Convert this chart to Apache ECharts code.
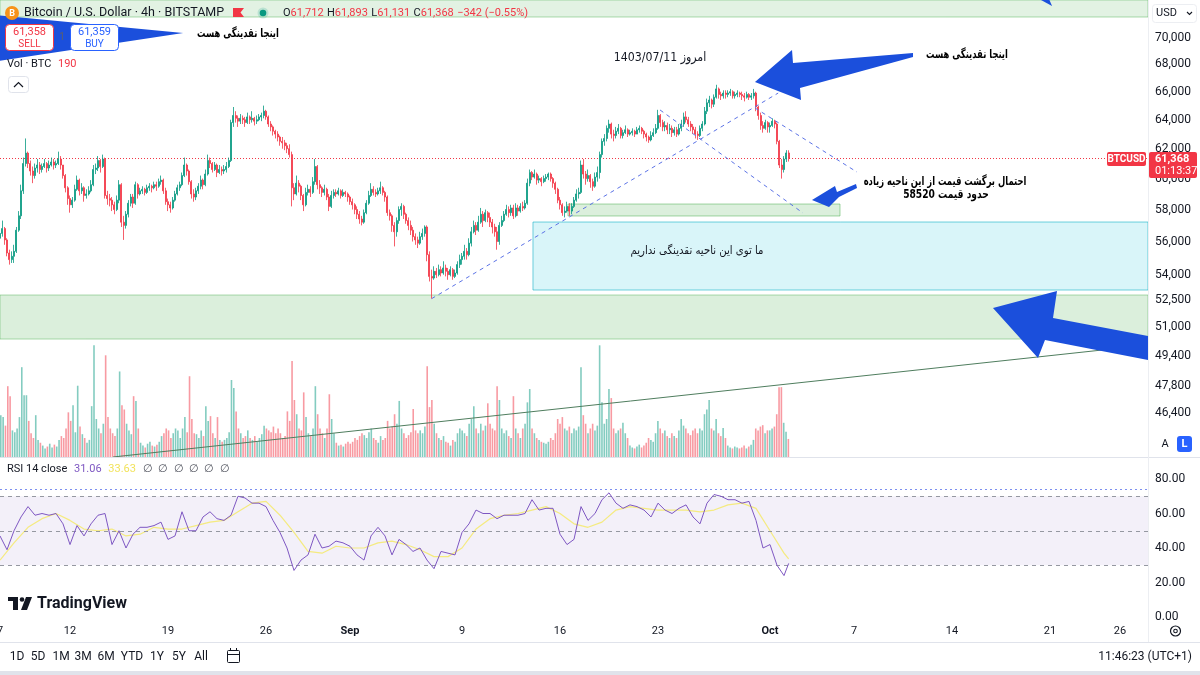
<!DOCTYPE html>
<html><head><meta charset="utf-8">
<script src="https://cdn.jsdelivr.net/npm/echarts@6/dist/echarts.min.js"></script>
<style>html,body{margin:0;padding:0;background:#fff;}#c{width:1200px;height:675px;}</style>
</head><body><div id="c"></div>
<script>
// ---------- DATA (4h candles, BITSTAMP BTC/USD, from 2024-08-07 00:00) ----------
const firstOpen = 56200;
const closes = [
// Aug 7
56500,56800,56100,55300,54900,55100,
// Aug 8
55400,56700,57600,59200,61000,61700,
// Aug 9
61000,60500,60200,60700,60900,60600,
// Aug 10
60800,61000,60700,60900,61100,60900,
// Aug 11
61000,61300,60900,60200,59400,58700,
// Aug 12
58300,58600,59300,59900,59200,59400,
// Aug 13
58900,59000,59200,59600,60600,60700,
// Aug 14
61200,60800,61300,58900,58700,58600,
// Aug 15
58300,58000,58600,59600,57200,57000,
// Aug 16
57700,58400,58800,58400,59600,59000,
// Aug 17
59200,59300,59100,59400,59500,59400,
// Aug 18
59600,59500,59800,59900,59200,58500,
// Aug 19
58300,58100,58600,59000,59400,59600,
// Aug 20
60200,60900,60500,59800,59000,58800,
// Aug 21
59200,59500,59900,59600,60300,61200,
// Aug 22
61000,60600,60900,60400,60600,60500,
// Aug 23
60600,60800,61200,63800,64300,64100,
// Aug 24
63900,64100,64000,63800,64200,64000,
// Aug 25
64100,63900,64000,64200,64300,64600,
// Aug 26
64200,63700,63500,63200,63000,62800,
// Aug 27
62500,62400,62200,62000,61600,59400,
// Aug 28
59000,59700,59500,58900,58300,59100,
// Aug 29
59300,59100,59800,60800,59600,59400,
// Aug 30
59100,59300,58800,58200,58900,59100,
// Aug 31
59000,59200,58900,59100,59000,58800,
// Sep 1
58500,58300,58000,57700,57400,57200,
// Sep 2
57800,58400,58900,59300,59100,59000,
// Sep 3
59200,59400,59100,58800,57800,57600,
// Sep 4
57000,56600,57300,58000,58200,57700,
// Sep 5
57300,57000,56700,56300,56100,55900,
// Sep 6
56300,56500,56900,55200,53900,53800,
// Sep 7
54200,54000,54300,54100,54400,54200,
// Sep 8
54000,54300,53900,54100,54600,54900,
// Sep 9
55100,55400,55200,55900,56600,57000,
// Sep 10
56700,57200,57700,57300,57800,57500,
// Sep 11
57200,56900,56600,56000,57000,57300,
// Sep 12
57700,58000,57800,58100,57600,58100,
// Sep 13
57900,58200,58100,58400,59700,60400,
// Sep 14
60100,60300,59900,60000,59800,60000,
// Sep 15
60100,60300,60000,59700,59300,58600,
// Sep 16
58300,57800,57900,58200,57900,58200,
// Sep 17
58600,59000,59100,60900,60300,60000,
// Sep 18
60200,59800,59500,60100,60400,61600,
// Sep 19
62500,62700,63400,63700,63000,62900,
// Sep 20
63200,63400,62900,63100,63300,63000,
// Sep 21
63100,63200,63000,63300,63400,63200,
// Sep 22
63000,62800,62600,62900,63100,63400,
// Sep 23
64300,63800,63500,63600,63300,63400,
// Sep 24
63100,63300,63000,63400,63700,64200,
// Sep 25
64000,63700,63500,63300,63000,62900,
// Sep 26
63400,63700,64600,65200,65400,65100,
// Sep 27
65600,66200,65800,65700,65900,65800,
// Sep 28
65900,66000,65700,65800,65900,65800,
// Sep 29
65700,65600,65800,65600,65700,65900,
// Sep 30
64900,64300,63600,63400,63800,63500,
// Oct 1
63600,63900,63700,62500,60900,60600,
// Oct 2
61300,61712,61368
];
const highs = [
56900,57300,56900,56200,55500,55400,
55800,56900,57900,59600,61400,62700,
61800,61200,60800,61000,61300,61100,
61000,61300,61100,61200,61400,61300,
61200,61800,61500,60900,60300,59500,
58900,58800,59600,60200,60000,59700,
59500,59300,59500,59900,60900,61000,
61500,61300,61600,61400,59200,59000,
58800,58500,58900,59900,59700,57600,
57900,58600,59000,59000,59800,59700,
59400,59500,59400,59600,59700,59600,
59800,59800,60000,60200,60000,59400,
58700,58500,58800,59200,59600,59800,
60400,61400,61000,60600,59900,59300,
59400,59700,60200,60000,60600,61600,
61400,61100,61100,61000,60900,60800,
60900,61100,61400,64000,64900,64600,
64300,64400,64300,64200,64500,64300,
64600,64200,64300,64400,64500,65000,
64700,64300,63900,63600,63300,63200,
62900,62800,62600,62400,62300,61800,
59700,60200,59900,59600,59000,59400,
59600,59500,60100,61300,60900,59900,
59500,59600,59400,59000,59200,59300,
59300,59400,59300,59300,59200,59100,
58900,58700,58400,58200,57900,57600,
58000,58600,59200,59700,59500,59300,
59400,59800,59500,59200,58900,58000,
57700,57200,57500,58200,58400,58300,
57800,57500,57300,56900,56500,56300,
56600,56800,57000,57000,55400,54300,
54500,54400,54600,54500,54800,54600,
54400,54500,54400,54300,54800,55200,
55300,55800,55600,56200,56900,57300,
57200,57600,58100,57900,58000,57900,
57800,57400,57100,56900,57200,57600,
57900,58300,58200,58300,58300,58400,
58300,58400,58500,58600,60000,60600,
60500,60600,60400,60200,60100,60200,
60300,60400,60400,60100,59800,59400,
58800,58400,58200,58500,58400,58400,
58800,59300,59400,61200,61300,60500,
60600,60300,60000,60400,60800,61800,
62700,63000,63600,64000,63800,63300,
63500,63700,63500,63300,63600,63400,
63300,63400,63300,63500,63600,63500,
63300,63100,62900,63200,63400,63700,
64700,64400,64000,63900,63800,63700,
63600,63500,63500,63700,64000,64500,
64600,64200,63900,63700,63500,63200,
63600,63900,64900,65500,65700,65500,
65800,66500,66300,66000,66100,66100,
66100,66200,66100,66000,66100,66000,
66000,65900,66000,65900,65900,66200,
66000,65000,64500,63900,64000,63900,
63800,64100,64000,63800,62600,61300,
61500,61900,61893
];
const lows = [
55900,56300,55800,55100,54600,54700,
54700,55300,56600,57400,59000,60800,
60700,60200,59700,60000,60400,60300,
60400,60700,60400,60500,60800,60600,
60700,60900,60600,60000,59100,58300,
57800,58100,58500,59200,58900,59000,
58500,58700,58900,59100,59500,60300,
60500,60400,60700,58700,58300,58200,
57900,57700,57900,58400,56900,56100,
56800,57500,58200,58100,58300,58700,
58900,59000,58900,59000,59200,59100,
59300,59200,59400,59600,59000,58300,
57900,57800,58000,58500,58900,59200,
59500,60100,60200,59600,58700,58500,
58600,59000,59300,59300,59500,60200,
60700,60400,60500,60100,60300,60200,
60300,60400,60700,61100,63500,63800,
63500,63700,63700,63500,63700,63700,
63800,63600,63700,63900,63900,64100,
64000,63500,63200,62900,62700,62500,
62200,62000,61900,61700,61400,58200,
58600,58900,59100,58600,57900,58200,
58900,58800,59000,59600,59300,59000,
58800,58900,58600,57900,58100,58700,
58800,58900,58700,58800,58800,58500,
58300,58000,57700,57400,57100,57000,
57100,57700,58300,58800,58900,58800,
58900,59000,58900,58500,57600,57300,
56600,55700,56300,57100,57600,57400,
57100,56700,56400,56000,55800,55600,
55800,56100,56300,54800,53600,52600,
53700,53800,53900,53900,54000,53900,
53700,53900,53700,53800,54000,54400,
54600,54900,54900,55100,55700,56500,
56400,56600,57100,56900,57200,57200,
56900,56500,56300,55500,55800,56900,
57200,57600,57500,57600,57400,57500,
57600,57800,57900,58000,58300,59500,
59900,60000,59600,59700,59500,59700,
59800,59900,59800,59400,59000,58400,
58000,57600,57500,57800,57600,57700,
58100,58500,58700,59000,60000,59600,
59800,59400,59200,59400,59800,60000,
61400,62200,62500,63100,62700,62500,
62700,63000,62700,62700,63000,62800,
62900,62900,62800,63000,63100,63000,
62700,62500,62400,62500,62800,63000,
63300,63500,63200,63200,63000,63000,
62800,62900,62800,62900,63200,63500,
63800,63500,63200,63000,62700,62600,
62800,63200,63600,64400,64900,64800,
64900,65500,65500,65400,65500,65500,
65600,65700,65500,65500,65600,65600,
65400,65300,65500,65400,65400,65500,
64600,64000,63300,63100,63300,63100,
63100,63500,63400,62300,60700,60000,
60400,61100,61131
];
const volumes = [
440,420,330,745,640,280, 260,300,420,945,650,650, 380,250,200,440,180,150, 120,90,110,140,100,130,
110,180,220,200,300,470, 380,545,260,750,320,240, 200,150,180,535,1175,400, 300,250,350,1070,420,300,
250,220,300,900,545,500, 350,280,240,640,590,300, 150,120,100,140,160,120, 110,130,160,220,250,300,
280,200,250,300,280,200, 300,420,260,850,400,250, 240,200,280,220,535,380, 430,250,200,420,180,160,
180,200,260,810,725,480, 300,250,200,220,280,200, 180,220,160,200,240,330, 300,280,260,320,250,300,
250,200,220,480,380,1010, 600,450,300,280,680,420, 250,220,300,745,450,300, 250,200,300,660,400,250,
150,120,130,110,140,160, 140,160,200,180,220,250, 230,200,260,300,200,180, 150,220,180,200,380,300,
320,450,350,590,300,250, 200,230,260,505,280,250, 280,250,320,955,525,600, 350,250,200,180,220,160,
150,120,180,160,250,300, 280,250,220,350,400,535, 300,250,350,280,330,565, 350,300,280,745,600,300,
250,280,220,200,640,300, 250,200,300,350,575,715, 300,250,200,180,160,150, 140,160,200,180,250,400,
350,420,300,280,320,250, 300,280,320,945,440,350, 250,300,350,280,330,1175, 575,350,400,715,620,300,
250,280,300,360,250,200, 120,100,90,110,130,100, 120,150,200,180,160,250, 380,300,250,280,220,200,
250,220,200,280,400,330, 300,250,230,280,300,250, 300,280,450,500,600,300, 280,400,250,220,305,200,
120,100,90,110,100,90, 100,120,90,110,130,180, 300,280,320,335,250,280, 280,300,320,450,735,735,
360,265,190
];
// RSI 14 read every 12h from Aug 7 00:00, and its yellow average read daily
const rsiValues = [47,39,50,58,64,59,60,59,60,54,42,53,47,54,59,60,42,50,40,48,52,52,53,55,45,47,61,50,50,58,61,57,56,59,70,69,66,66,64,56,49,40,27,33,36,48,40,41,44,43,41,36,33,47,52,47,36,45,42,38,40,33,28,38,37,36,49,54,62,60,60,57,59,59,59,60,68,62,63,63,48,42,45,64,56,60,68,72,66,63,65,64,62,58,66,62,60,63,65,58,54,66,71,70,68,68,66,67,56,40,42,30,24];
const rsiMaValues = [33,43,52,57,60,56,51,50,51,47,48,52,51,51,53,55,56,61,66,67,59,49,38,37,41,40,40,43,44,42,39,35,35,40,51,57,59,60,62,64,60,54,52,55,62,64,63,62,62,62,61,62,65,66,63,50,37];
const rsiLast = 31.06, rsiMaLast = 33.63;
const priceTicks = [46400,47800,49400,51000,52500,54000,56000,58000,60000,62000,64000,66000,68000,70000];
const rsiTicks = [0,20,40,60,80];
const timeTicks = ['2024-08-07','2024-08-12','2024-08-19','2024-08-26','2024-09-01','2024-09-09','2024-09-16','2024-09-23','2024-10-01','2024-10-07','2024-10-14','2024-10-21','2024-10-26'];
const monthNames = ['Jan','Feb','Mar','Apr','May','Jun','Jul','Aug','Sep','Oct','Nov','Dec'];

// Drawings (time, price)
const zoneTop   = {from:'2024-08-01T00:00Z', to:'2024-10-28T00:00Z', low:71630, high:80000};
const zoneBig   = {from:'2024-08-01T00:00Z', to:'2024-10-28T00:00Z', low:50320, high:52810};
const zoneSmall = {from:'2024-09-16T13:40Z', to:'2024-10-06T00:00Z', low:57590, high:58350};
const zoneCyan  = {from:'2024-09-14T01:40Z', to:'2024-10-28T00:00Z', low:53100, high:57210};
const trendUp   = [['2024-09-06T20:00Z',52600],['2024-10-01T14:00Z',65900]];
const trendDn1  = [['2024-09-23T03:30Z',64690],['2024-10-03T08:30Z',57780]];
const trendDn2  = [['2024-09-29T22:15Z',64830],['2024-10-07T05:10Z',60430]];
const trendVol  = [['2024-08-15T01:45Z',44216],['2024-10-28T00:00Z',49990]];
const arrowTopLeft = [['2024-08-06T12:00Z',71800],['2024-08-20T02:00Z',70380],['2024-08-06T12:00Z',68200]];
const arrowTop = [['2024-09-29T22:15Z',66700],['2024-10-02T13:45Z',69090],['2024-10-02T15:25Z',68110],['2024-10-11T05:10Z',68860],['2024-10-11T05:10Z',68560],['2024-10-03T03:25Z',66270],['2024-10-03T05:10Z',65400]];
const arrowSmall = [['2024-10-04T00:00Z',58610],['2024-10-05T15:25Z',59510],['2024-10-05T18:50Z',59120],['2024-10-07T03:25Z',59650],['2024-10-07T05:10Z',59380],['2024-10-05T22:15Z',58800],['2024-10-05T05:10Z',58160]];
const arrowBottom = [['2024-10-16T22:15Z',52060],['2024-10-21T12:00Z',53040],['2024-10-21T05:10Z',51500],['2024-10-28T00:00Z',50490],['2024-10-28T00:00Z',49180],['2024-10-20T15:25Z',50270],['2024-10-20T03:25Z',49290]];
const arrowTopRightTail = [['2024-10-19T20:00Z',73300],['2024-10-20T20:00Z',73300],['2024-10-21T03:30Z',72500]];

// ---------- BUILD ----------
const HOUR = 3600e3;
const t0 = Date.UTC(2024,7,7);
const xMin = t0, xMax = Date.UTC(2024,9,28);
const candles = closes.map((c,i)=>{
  const o = i===0 ? firstOpen : closes[i-1];
  return [t0+i*4*HOUR, o, c, Math.min(lows[i],o,c), Math.max(highs[i],o,c)];
});
const lastT = t0+(closes.length-1)*4*HOUR;
const lastClose = closes[closes.length-1];
const volData = volumes.map((v,i)=>({value:[candles[i][0], v], itemStyle:{color: candles[i][2]>=candles[i][1] ? 'rgba(8,153,129,0.5)' : 'rgba(242,54,69,0.5)'}}));
const rsiData = rsiValues.map((v,i)=>[t0+i*12*HOUR, v]).concat([[lastT, rsiLast]]);
const maData = rsiMaValues.map((v,i)=>[t0+i*24*HOUR, v]).concat([[lastT, rsiMaLast]]);
const P = s=>Date.parse(s);
function zoneArea(z, fill, border){
  return [{coord:[P(z.from), z.low], itemStyle:{color:fill, borderColor:border, borderWidth:1}}, {coord:[P(z.to), z.high]}];
}
function trendSeries(pts, color, dash, w){
  return {type:'line', xAxisIndex:0, yAxisIndex:0, data:pts.map(p=>[P(p[0]),p[1]]), symbol:'none', silent:true, z:6,
    lineStyle:{color:color, width:w||1, type:dash}};
}
const axisFont = 'Roboto, "Noto Sans", sans-serif';
const option = {
  animation:false,
  backgroundColor:'#ffffff',
  textStyle:{fontFamily:axisFont},
  grid:[
    {left:0,right:52,top:0,height:457},
    {left:0,right:52,top:342,height:115},
    {left:0,right:52,top:459,height:163}
  ],
  xAxis:[
    {type:'time',gridIndex:0,min:xMin,max:xMax,show:false},
    {type:'time',gridIndex:1,min:xMin,max:xMax,show:false},
    {type:'time',gridIndex:2,min:xMin,max:xMax,show:false}
  ],
  yAxis:[
    {type:'log',gridIndex:0,position:'right',min:44216,max:72979,axisLine:{show:false},axisTick:{show:false},splitLine:{show:false},
      axisLabel:{customValues:priceTicks, color:'#131722', fontSize:12, margin:7, formatter:v=>Math.round(v).toLocaleString('en-US')}},
    {type:'value',gridIndex:1,min:0,max:1210,show:false},
    {type:'value',gridIndex:2,position:'right',min:-2.9,max:91.6,axisLine:{show:false},axisTick:{show:false},splitLine:{show:false},
      axisLabel:{customValues:rsiTicks, color:'#131722', fontSize:12, margin:7, formatter:v=>Number(v).toFixed(2)}}
  ],
  series:[
    {type:'line', xAxisIndex:0, yAxisIndex:0, data:[], silent:true, z:1,
      markArea:{silent:true, data:[
        zoneArea(zoneTop,'rgba(76,175,80,0.16)','rgba(76,175,80,0.45)'),
        zoneArea(zoneBig,'rgba(76,175,80,0.2)','rgba(76,175,80,0.45)'),
        zoneArea(zoneSmall,'rgba(76,175,80,0.2)','rgba(76,175,80,0.5)'),
        zoneArea(zoneCyan,'rgba(0,188,212,0.15)','rgba(0,172,193,0.55)')
      ]}},
    {type:'bar', xAxisIndex:1, yAxisIndex:1, data:volData, barWidth:1.6, silent:true, z:2},
    {type:'candlestick', xAxisIndex:0, yAxisIndex:0, data:candles, barWidth:1.6, silent:true, z:5,
      itemStyle:{color:'#089981', color0:'#f23645', borderColor:'#089981', borderColor0:'#f23645', borderWidth:0.8},
      markLine:{symbol:'none', silent:true, label:{show:false}, lineStyle:{color:'#f23645', type:[1,2], width:1}, data:[{yAxis:lastClose}]}},
    trendSeries(trendUp,'#5c73e6',[4,4]),
    trendSeries(trendDn1,'#5c73e6',[4,4]),
    trendSeries(trendDn2,'#5c73e6',[4,4]),
    trendSeries(trendVol,'#4f7d5e','solid',1),
    {type:'line', xAxisIndex:2, yAxisIndex:2, data:rsiData, symbol:'none', silent:true, z:5,
      lineStyle:{color:'#7e57c2', width:1},
      markArea:{silent:true, itemStyle:{color:'rgba(126,87,194,0.09)'}, data:[[{yAxis:30},{yAxis:70}]]},
      markLine:{symbol:'none', silent:true, label:{show:false}, lineStyle:{color:'#9598a1', type:[4,4], width:1},
        data:[{yAxis:70},{yAxis:50},{yAxis:30},{yAxis:73.8, lineStyle:{color:'#7d8ff0', type:[2,3], width:1}}]}},
    {type:'line', xAxisIndex:2, yAxisIndex:2, data:maData, symbol:'none', silent:true, z:4,
      lineStyle:{color:'rgba(244,234,120,0.95)', width:1.2}}
  ]
};
const chart = echarts.init(document.getElementById('c'), null, {renderer:'canvas', width:1200, height:675});
chart.setOption(option);

// ---------- overlays ----------
const toPx = p => chart.convertToPixel({xAxisIndex:0,yAxisIndex:0}, [P(p[0]), p[1]]);
const BLUE = '#1b4fdc';
const fa = '"DejaVu Sans", sans-serif';
const RLE = '\u202B', PDF = '\u202C';
function txt(x,y,text,font,fill,align,sx){return {type:'text', z:80, x:x, y:y, scaleX:sx||1, style:{x:0,y:0,text:text,font:font,fill:fill||'#131722',align:align||'left',verticalAlign:'middle'}};}
function rect(x,y,w,h,fill,stroke,r,z){return {type:'rect', z:z||78, shape:{x:x,y:y,width:w,height:h,r:r||0}, style:{fill:fill||'none', stroke:stroke||null, lineWidth:1}};}
const yp = chart.convertToPixel({yAxisIndex:0}, lastClose);
// time-axis labels placed through the time scale of the RSI pane
const timeLabelEls = timeTicks.map(s=>{
  const v = P(s), d = new Date(v);
  const x = chart.convertToPixel({xAxisIndex:2}, v);
  const isMonth = d.getUTCDate()===1;
  return txt(x, 631, isMonth ? monthNames[d.getUTCMonth()] : String(d.getUTCDate()), (isMonth?'bold ':'')+'11px '+axisFont, '#131722', 'center');
});
const els = [
  // arrows
  {type:'polygon', z:50, shape:{points:arrowTopLeft.map(toPx)}, style:{fill:BLUE}},
  {type:'polygon', z:50, shape:{points:arrowTop.map(toPx)}, style:{fill:BLUE}},
  {type:'polygon', z:50, shape:{points:arrowSmall.map(toPx)}, style:{fill:BLUE}},
  {type:'polygon', z:50, shape:{points:arrowBottom.map(toPx)}, style:{fill:BLUE}},
  {type:'polygon', z:50, shape:{points:arrowTopRightTail.map(toPx)}, style:{fill:BLUE}},
  // pane separators
  {type:'line', z:40, shape:{x1:0,y1:457.5,x2:1200,y2:457.5}, style:{stroke:'#e0e3eb',lineWidth:1}},
  {type:'line', z:40, shape:{x1:1148.5,y1:0,x2:1148.5,y2:642}, style:{stroke:'#eceef2',lineWidth:1}},
  {type:'line', z:40, shape:{x1:0,y1:642.5,x2:1200,y2:642.5}, style:{stroke:'#e0e3eb',lineWidth:1}},
  rect(0,671,1200,4,'#e0e3eb',null,0,40),
  // header
  {type:'circle', z:80, shape:{cx:12,cy:13,r:7}, style:{fill:'#f7931a'}},
  txt(12,13.5,'B','bold 9px '+axisFont,'#ffffff','center'),
  txt(24,13,'Bitcoin / U.S. Dollar · 4h · BITSTAMP','12.5px '+axisFont,'#131722'),
  {type:'polygon', z:80, shape:{points:[[233,8],[244,8],[240.5,12.5],[244,17],[233,17]]}, style:{fill:'#f23645'}},
  {type:'circle', z:80, shape:{cx:263,cy:13,r:5.5}, style:{fill:'rgba(8,153,129,0.18)'}},
  {type:'circle', z:80, shape:{cx:263,cy:13,r:3.3}, style:{fill:'#089981'}},
  {type:'text', z:80, style:{x:283,y:13,verticalAlign:'middle',
    text:'{d|O}{r|61,712} {d|H}{r|61,893} {d|L}{r|61,131} {d|C}{r|61,368} {r|−342 (−0.55%)}',
    rich:{d:{fill:'#131722',fontSize:11,fontFamily:axisFont}, r:{fill:'#f23645',fontSize:11,fontFamily:axisFont}}}},
  // sell / buy
  rect(5.5,24.5,48,26,'#ffffff','#f23645',4,79),
  txt(29.5,32,'61,358','11px '+axisFont,'#f23645','center'),
  txt(29.5,44,'SELL','10px '+axisFont,'#f23645','center'),
  txt(62,37.5,'1','10px '+axisFont,'#5d606b','center'),
  rect(70.5,24.5,48,26,'#ffffff','#2962ff',4,79),
  txt(94.5,32,'61,359','11px '+axisFont,'#2962ff','center'),
  txt(94.5,44,'BUY','10px '+axisFont,'#2962ff','center'),
  // volume legend & collapse button
  {type:'text', z:80, style:{x:7,y:64,verticalAlign:'middle', text:'{d|Vol · BTC}  {r|190}',
    rich:{d:{fill:'#131722',fontSize:11,fontFamily:axisFont}, r:{fill:'#f23645',fontSize:11,fontFamily:axisFont}}}},
  rect(8.5,76.5,20,16,'#ffffff','#e0e3eb',3,79),
  {type:'polyline', z:80, shape:{points:[[14,87],[18.5,82.5],[23,87]]}, style:{stroke:'#131722',lineWidth:1.2,fill:null}},
  // USD box
  rect(1152.5,4.5,44,18,'#ffffff','#eceef2',3,79),
  txt(1156,13.5,'USD','11px '+axisFont,'#131722'),
  {type:'polyline', z:80, shape:{points:[[1187,12],[1189.5,14.5],[1192,12]]}, style:{stroke:'#131722',lineWidth:1.1,fill:null}},
  // A / L buttons
  txt(1165,444,'A','11px '+axisFont,'#131722','center'),
  rect(1177,436,15,16,'#2962ff',null,3,79),
  txt(1184.5,444,'L','bold 11px '+axisFont,'#ffffff','center'),
  // price labels
  rect(1107,yp-6,39,14,'#f23645',null,2,79),
  txt(1126.5,yp+1,'BTCUSD','bold 10px '+axisFont,'#ffffff','center'),
  rect(1149,yp-6,48,26,'#f23645',null,2,79),
  txt(1155,yp+1,'61,368','bold 11px '+axisFont,'#ffffff'),
  txt(1155,yp+13,'01:13:37','11px '+axisFont,'#ffffff'),
  // RSI legend
  {type:'text', z:80, style:{x:7,y:469,verticalAlign:'middle', text:'{d|RSI 14 close}  {p|31.06}  {y|33.63}  {g|∅  ∅  ∅  ∅  ∅  ∅}',
    rich:{d:{fill:'#131722',fontSize:11,fontFamily:axisFont}, p:{fill:'#7e57c2',fontSize:11,fontFamily:axisFont},
          y:{fill:'#f2e35c',fontSize:11,fontFamily:axisFont}, g:{fill:'#50535e',fontSize:11,fontFamily:axisFont}}}},
  // TradingView logo
  rect(8,597,10,4,'#131722',null,0,80),
  rect(13,597,5,13,'#131722',null,0,80),
  {type:'circle', z:80, shape:{cx:22,cy:599.5,r:2.3}, style:{fill:'#131722'}},
  {type:'polygon', z:80, shape:{points:[[26,597],[32,597],[27,610],[21,610]]}, style:{fill:'#131722'}},
  txt(37,603.5,'TradingView','bold 16px '+axisFont,'#131722'),
  // gear
  {type:'circle', z:80, shape:{cx:1175.5,cy:631,r:5}, style:{fill:'none',stroke:'#131722',lineWidth:1.2}},
  {type:'circle', z:80, shape:{cx:1175.5,cy:631,r:1.8}, style:{fill:'none',stroke:'#131722',lineWidth:1.1}},
  // bottom toolbar
  txt(17,657,'1D','12px '+axisFont,'#131722','center'),
  txt(38,657,'5D','12px '+axisFont,'#131722','center'),
  txt(61,657,'1M','12px '+axisFont,'#131722','center'),
  txt(83,657,'3M','12px '+axisFont,'#131722','center'),
  txt(106,657,'6M','12px '+axisFont,'#131722','center'),
  txt(132,657,'YTD','12px '+axisFont,'#131722','center'),
  txt(157,657,'1Y','12px '+axisFont,'#131722','center'),
  txt(179,657,'5Y','12px '+axisFont,'#131722','center'),
  txt(201,657,'All','12px '+axisFont,'#131722','center'),
  rect(227.5,650.5,12,12,'none','#131722',1,80),
  {type:'line', z:80, shape:{x1:227.5,y1:654.5,x2:239.5,y2:654.5}, style:{stroke:'#131722',lineWidth:1}},
  {type:'line', z:80, shape:{x1:230.5,y1:648,x2:230.5,y2:651}, style:{stroke:'#131722',lineWidth:1}},
  {type:'line', z:80, shape:{x1:236.5,y1:648,x2:236.5,y2:651}, style:{stroke:'#131722',lineWidth:1}},
  txt(1192,657,'11:46:23 (UTC+1)','12px '+axisFont,'#131722','right'),
  // annotation texts
  txt(238,34,RLE+'اینجا نقدینگی هست'+PDF,'bold 12px '+fa,'#000000','center',0.7),
  txt(660,58,RLE+'امروز 1403/07/11'+PDF,'12.5px '+fa,'#131722','center',0.88),
  txt(967,55,RLE+'اینجا نقدینگی هست'+PDF,'bold 12px '+fa,'#000000','center',0.7),
  txt(945,182,RLE+'احتمال برگشت قیمت از این ناحیه زیاده'+PDF,'bold 12px '+fa,'#000000','center',0.7),
  txt(946,195,RLE+'حدود قیمت 58520'+PDF,'bold 12px '+fa,'#000000','center',0.76),
  txt(697,251,RLE+'ما توی این ناحیه نقدینگی نداریم'+PDF,'11.5px '+fa,'#131722','center',0.88)
].concat(timeLabelEls);
chart.setOption({graphic:{elements:els}});
</script></body></html>
